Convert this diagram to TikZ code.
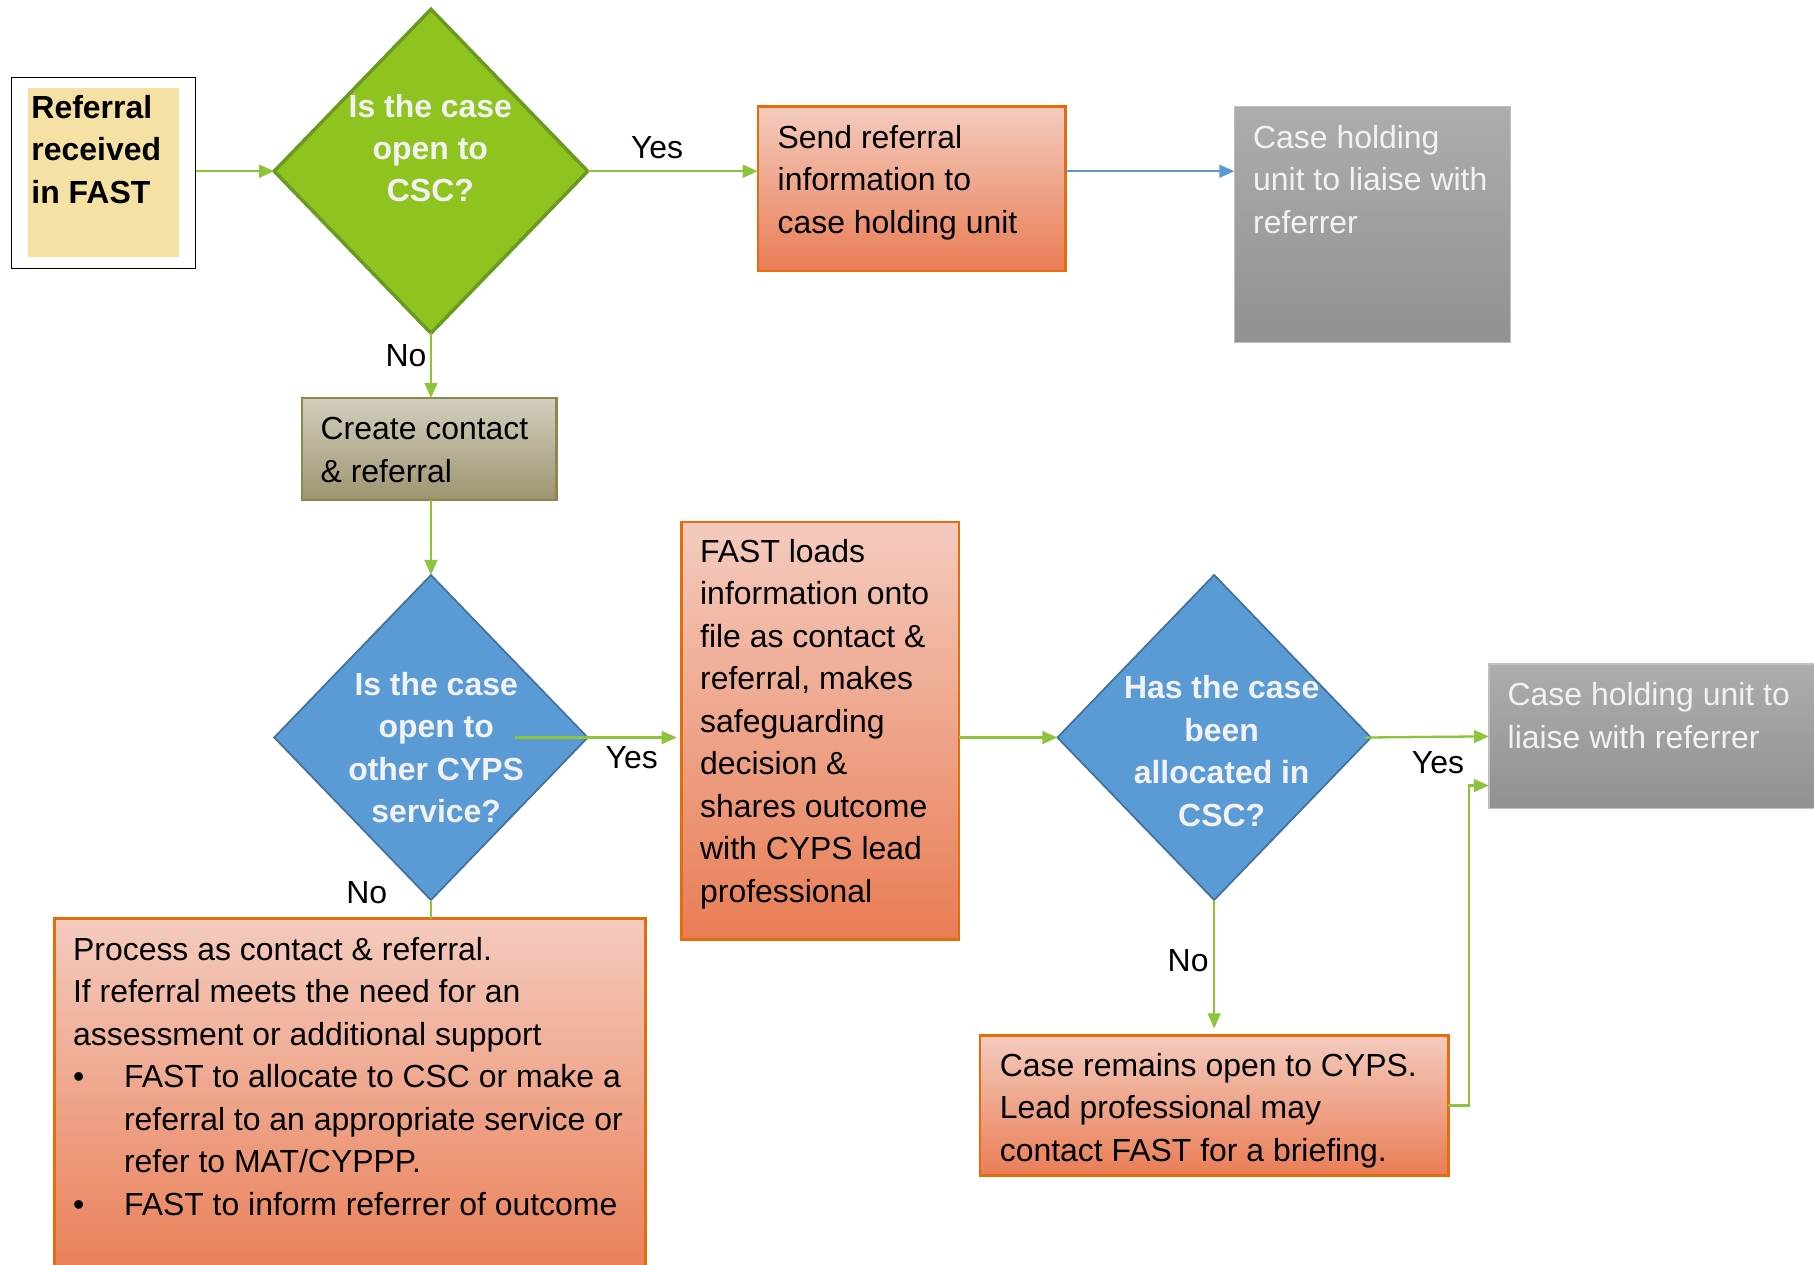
\documentclass[tikz,border=0pt]{standalone}
\usepackage{fontspec}
\setmainfont{Liberation Sans}
\usetikzlibrary{shapes.geometric,arrows.meta}

\definecolor{lineGreen}{HTML}{8CC43C}
\definecolor{diaGreen}{HTML}{8FC31F}
\definecolor{diaGreenEdge}{HTML}{6A9A22}
\definecolor{diaBlue}{HTML}{5B9BD5}
\definecolor{diaBlueEdge}{HTML}{41719C}
\definecolor{orEdge}{HTML}{E46C0A}
\definecolor{orTop}{HTML}{F4CBBE}
\definecolor{orBot}{HTML}{E97D55}
\definecolor{grTop}{HTML}{ADADAD}
\definecolor{grBot}{HTML}{919191}
\definecolor{grEdge}{HTML}{BFBFBF}
\definecolor{olTop}{HTML}{D3CFBE}
\definecolor{olBot}{HTML}{9D9470}
\definecolor{olEdge}{HTML}{8F8650}
\definecolor{refFill}{HTML}{F5E1A4}
\definecolor{paleText}{HTML}{F2F2F2}
\definecolor{linkBlue}{HTML}{5B9BD5}

\tikzset{
  every node/.style={font=\fontsize{27.6}{36.7}\selectfont},
  box/.style={rectangle, inner sep=0pt, outer sep=0pt},
  orangebox/.style={box, draw=orEdge, line width=2pt, top color=orTop, bottom color=orBot},
  graybox/.style={box, draw=grEdge, line width=1pt, top color=grTop, bottom color=grBot},
  olivebox/.style={box, draw=olEdge, line width=2pt, top color=olTop, bottom color=olBot},
  refbox/.style={box, draw=black, line width=1.5pt, fill=white},
  dia/.style={diamond, inner sep=0pt, outer sep=0pt},
  greendia/.style={dia, fill=diaGreen, draw=diaGreenEdge, line width=3pt},
  bluedia/.style={dia, fill=diaBlue, draw=diaBlueEdge, line width=1.5pt},
  txt/.style={anchor=north west, inner sep=0pt, align=left},
  qtxt/.style={anchor=north, inner sep=0pt, align=center,
    font=\fontsize{27.6}{36.7}\selectfont\bfseries, text=paleText},
  lbl/.style={inner sep=0pt},
  gline/.style={draw=lineGreen, line width=2pt},
  garrow/.style={gline, -{Triangle[length=13pt,width=11pt]}},
  barrow/.style={draw=linkBlue, line width=2pt, -{Triangle[length=13pt,width=11pt]}},
}

\begin{document}
\begin{tikzpicture}[x=1pt,y=-1pt]
  \useasboundingbox (0,0) rectangle (1568,1093);
  \fill[white] (0,0) rectangle (1568,1093);
  \clip (0,0) rectangle (1568,1093);

  % start box
  \node[refbox, minimum width=159pt, minimum height=165pt] (ref) at (89.5,149.5) {};
  \fill[refFill] ([shift={(14pt,-9pt)}]ref.north west) rectangle ([shift={(-14pt,10pt)}]ref.south east);
  \node[txt, font=\fontsize{27.6}{36.7}\selectfont\bfseries] (reft) at (27,76.3)
    {\strut Referral\\ received\\ in FAST};

  % decisions
  \node[greendia, minimum width=271pt, minimum height=280pt] (d1) at (372.5,148) {};
  \node[qtxt] (d1t) at (372,75.3) {\strut Is the case\\ open to\\ CSC?};

  \node[bluedia, minimum width=271pt, minimum height=281pt] (d2) at (372.5,637.5) {};
  \node[qtxt] (d2t) at (377,575.3) {\strut Is the case\\ open to\\ other CYPS\\ service?};

  \node[bluedia, minimum width=271pt, minimum height=281pt] (d3) at (1049.5,637.5) {};
  \node[qtxt] (d3t) at (1056,578.3) {\strut Has the case\\ been\\ allocated in\\ CSC?};

  % process boxes
  \node[orangebox, minimum width=266pt, minimum height=142pt] (send) at (788,163) {};
  \node[txt] (sendt) at (672,102.3) {\strut Send referral\\ information to\\ case holding unit};

  \node[graybox, minimum width=239pt, minimum height=204pt] (gray1) at (1186.5,194) {};
  \node[txt, text=paleText] (gray1t) at (1083,102.3) {\strut Case holding\\ unit to liaise with\\ referrer};

  \node[olivebox, minimum width=220pt, minimum height=88pt] (create) at (371,388) {};
  \node[txt] (createt) at (277,354.3) {\strut Create contact\\ \& referral};

  \node[orangebox, minimum width=240pt, minimum height=361pt] (fast) at (709,631.5) {};
  \node[txt] (fastt) at (605,460.3) {\strut FAST loads\\ information onto\\ file as contact \&\\ referral, makes\\ safeguarding\\ decision \&\\ shares outcome\\ with CYPS lead\\ professional};

  \node[graybox, minimum width=293pt, minimum height=125pt] (gray2) at (1433.5,636.5) {};
  \node[txt, text=paleText] (gray2t) at (1303,584.3) {\strut Case holding unit to\\ liaise with referrer};

  \node[orangebox, minimum width=405pt, minimum height=121pt] (remains) at (1049.5,955.5) {};
  \node[txt] (remainst) at (864,904.3) {\strut Case remains open to CYPS.\\ Lead professional may\\ contact FAST for a briefing.};

  \node[orangebox, minimum width=511pt, minimum height=316pt] (process) at (302.5,952) {};
  \node[txt] (processt) at (63,804.3) {\strut Process as contact \& referral.\\
    If referral meets the need for an\\
    assessment or additional support\\
    \makebox[44pt][l]{\textbullet}FAST to allocate to CSC or make a\\
    \hspace*{44pt}referral to an appropriate service or\\
    \hspace*{44pt}refer to MAT/CYPPP.\\
    \makebox[44pt][l]{\textbullet}FAST to inform referrer of outcome};

  % connectors
  \draw[garrow] (ref.east |- d1.west) -- (d1.west);
  \draw[garrow] (d1.east) -- (send.west |- d1.east);
  \draw[barrow] (send.east |- d1.east) -- (gray1.west |- d1.east);
  \draw[garrow] (d1.south) -- (d1.south |- create.north);
  \draw[garrow] (d2.north |- create.south) -- (d2.north);
  \draw[garrow] ([xshift=72.5pt]d2.center) -- ([xshift=-4pt]fast.west |- d2.center);
  \draw[garrow] (fast.east |- d3.west) -- (d3.west);
  \draw[garrow] ([xshift=-5pt]d3.east) -- (gray2.west);
  \draw[garrow] (d3.south) -- ([yshift=6pt]remains.north);
  \draw[garrow] (remains.east) -- ++(18,0) |- ([yshift=20pt]gray2.south west);
  \draw[gline] (d2.south) -- (d2.south |- process.north);

  % branch labels
  \node[lbl] (yes1) at (568,128) {Yes};
  \node[lbl] (no1) at (351,307) {No};
  \node[lbl] (yes2) at (546,655) {Yes};
  \node[lbl] (no2) at (317,772) {No};
  \node[lbl] (yes3) at (1243,659) {Yes};
  \node[lbl] (no3) at (1027,830) {No};
\end{tikzpicture}
\end{document}
